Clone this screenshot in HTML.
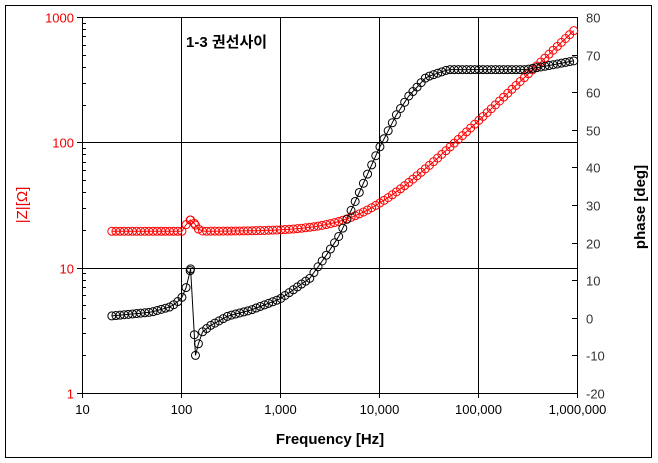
<!DOCTYPE html>
<html><head><meta charset="utf-8"><style>
html,body{margin:0;padding:0;background:#fff;}
svg{display:block;font-family:"Liberation Sans","Noto Sans CJK KR",sans-serif;}
</style></head><body>
<svg id="s" width="658" height="463" xmlns="http://www.w3.org/2000/svg">
<rect x="5.5" y="5.5" width="646" height="452" fill="#fff" stroke="#000" stroke-width="1"/>
<g id="grid" stroke="#000" stroke-width="1"></g>
<rect x="82.5" y="17.5" width="495" height="376" fill="none" stroke="#000"/>
<g id="lab" font-size="13"></g>
<text x="330" y="444" font-size="15" font-weight="bold" text-anchor="middle">Frequency [Hz]</text>
<text transform="translate(27,205) rotate(-90)" font-size="15" fill="#e00" text-anchor="middle">|Z|[Ω]</text>
<text transform="translate(645,207) rotate(-90)" font-size="15" font-weight="bold" text-anchor="middle">phase [deg]</text>
<text x="186" y="47" font-size="15" font-weight="bold">1-3 권선사이</text>
<path id="zl" fill="none" stroke="#f00" stroke-width="1"/>
<path id="pl" fill="none" stroke="#000" stroke-width="1"/>
<g id="zc" fill="none" stroke="#f00" stroke-width="1"></g>
<g id="pc" fill="none" stroke="#000" stroke-width="1"></g>
</svg>
<script>
var L=82,R=577,T=17,B=393,NS="http://www.w3.org/2000/svg";
function X(f){return L+(Math.log10(f)-1)*(R-L)/5;}
function YZ(z){return B-Math.log10(z)*(B-T)/3;}
function YP(p){return B-(p+20)*(B-T)/100;}
var g=document.getElementById('grid'),lab=document.getElementById('lab');
function ln(x1,y1,x2,y2){var e=document.createElementNS(NS,'line');e.setAttribute('x1',x1);e.setAttribute('y1',y1);e.setAttribute('x2',x2);e.setAttribute('y2',y2);g.appendChild(e);}
function tx(x,y,t,a,c){var e=document.createElementNS(NS,'text');e.setAttribute('x',x);e.setAttribute('y',y);e.setAttribute('text-anchor',a);e.setAttribute('fill',c);e.textContent=t;lab.appendChild(e);}
var xl=['10','100','1,000','10,000','100,000','1,000,000'];
for(var i=0;i<6;i++){var x=Math.round(X(Math.pow(10,i+1)))+.5;ln(x,T,x,B);ln(x,B,x,B+5);tx(x,414,xl[i],'middle','#000');}
var yl=['1','10','100','1000'];
for(var i=0;i<4;i++){var y=Math.round(YZ(Math.pow(10,i)))+.5;ln(L,y,R,y);ln(L-5,y,L,y);tx(74,y+5,yl[i],'end','#e00');
 if(i<3)for(var k=2;k<10;k++){var yy=Math.round(YZ(k*Math.pow(10,i)))+.5;ln(L,yy,L+4,yy);}}
for(var p=-20;p<=80;p+=10){var y=Math.round(YP(p))+.5;ln(R-5,y,R+1,y);tx(586,y+5,String(p),'start','#333');}
var kp=[[20,0.5],[50,1.5],[80,3],[100,5],[110,7],[125,13],[140,-10],[160,-4],[200,-2],[300,0.5],[500,2],[1000,5],[2000,10.5],[3000,17],[4000,22],[6000,32],[10000,45],[15000,54],[20000,59],[30000,64],[50000,66],[100000,66],[300000,66],[500000,67],[1e6,68.5]];
function ph(f){var lf=Math.log10(f);for(var i=0;i<kp.length-1;i++){var a=Math.log10(kp[i][0]),b=Math.log10(kp[i+1][0]);if(lf<=b){var t=(lf-a)/(b-a);return kp[i][1]+t*(kp[i+1][1]-kp[i][1]);}}return kp[kp.length-1][1];}
function zz(f){var k=0.026*Math.pow(f,0.75);var z=Math.sqrt(19.5*19.5+k*k);
 if(f>110&&f<170){var d=Math.log10(f/125)/0.06;z+=4.5*Math.exp(-d*d);}return z;}
var fs=[];for(var i=0;;i++){var f=20*Math.pow(10,i/24);if(f>1e6*1.001)break;fs.push(f);}
fs.push(125);fs.push(140);fs.sort(function(a,b){return a-b;});
var zd='',pd='',zc=document.getElementById('zc'),pc=document.getElementById('pc');
fs.forEach(function(f,i){var x=X(f),yz=YZ(zz(f)),yp=YP(ph(f));
 zd+=(i?'L':'M')+x.toFixed(1)+' '+yz.toFixed(1);pd+=(i?'L':'M')+x.toFixed(1)+' '+yp.toFixed(1);
 var c=document.createElementNS(NS,'circle');c.setAttribute('cx',x);c.setAttribute('cy',yz);c.setAttribute('r',4);zc.appendChild(c);
 c=document.createElementNS(NS,'circle');c.setAttribute('cx',x);c.setAttribute('cy',yp);c.setAttribute('r',4);pc.appendChild(c);});
document.getElementById('zl').setAttribute('d',zd);document.getElementById('pl').setAttribute('d',pd);
</script>
</body></html>
